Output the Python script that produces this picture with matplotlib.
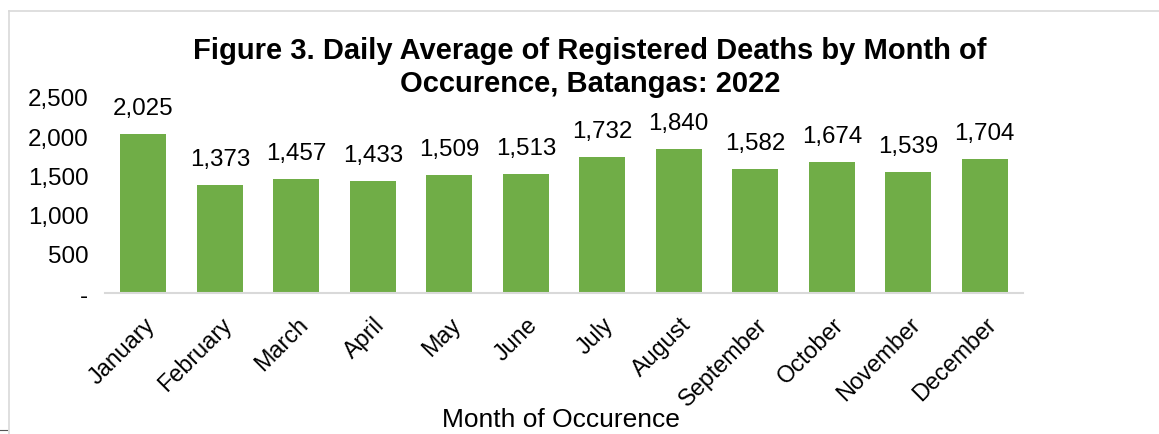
import matplotlib
matplotlib.use("Agg")
import matplotlib.pyplot as plt
from matplotlib.lines import Line2D

months = ["January", "February", "March", "April", "May", "June", "July",
          "August", "September", "October", "November", "December"]
values = [2025, 1373, 1457, 1433, 1509, 1513, 1732, 1840, 1582, 1674, 1539, 1704]
yticks = [0, 500, 1000, 1500, 2000, 2500]
ytick_labels = ["-", "500", "1,000", "1,500", "2,000", "2,500"]
title_lines = ["Figure 3. Daily Average of Registered Deaths by Month of",
               "Occurence, Batangas: 2022"]
xlabel = "Month of Occurence"

plt.rcParams['font.family'] = ['Liberation Sans', 'DejaVu Sans']
FS = 17.4
W, H = 1159, 435
fig = plt.figure(figsize=(W / 100, H / 100), dpi=100)
ax = fig.add_axes([105 / W, (H - 294) / H, (1023 - 105) / W, (294 - 98) / H])

x = list(range(len(months)))
ax.bar(x, values, width=0.6, color="#70AD47", zorder=2)
ax.set_xlim(-0.5, len(months) - 0.5)
ax.set_ylim(0, 2500)
ax.set_yticks(yticks)
ax.set_yticklabels(ytick_labels, fontsize=FS)
ax.set_xticks(x)
ax.set_xticklabels(months, fontsize=16.8, rotation=45, ha="right", va="top",
                   rotation_mode="anchor")
ax.tick_params(axis="both", length=0)
ax.tick_params(axis="y", pad=12)
ax.tick_params(axis="x", pad=14)
for s in ["left", "right", "top"]:
    ax.spines[s].set_visible(False)
ax.spines["bottom"].set_color("#D9D9D9")
ax.spines["bottom"].set_linewidth(1.5)

for xi, v in zip(x, values):
    ax.annotate(f"{v:,}", (xi, v), xytext=(0, 14.4), textcoords="offset points",
                ha="center", va="baseline", fontsize=FS)

fig.text(590 / W, 1 - 59 / H, title_lines[0], ha="center", va="baseline",
         fontsize=21, fontweight="bold")
fig.text(590 / W, 1 - 92 / H, title_lines[1], ha="center", va="baseline",
         fontsize=21, fontweight="bold")
fig.text(561 / W, 1 - 427 / H, xlabel, ha="center", va="baseline", fontsize=19)

# border lines
fig.add_artist(Line2D([9 / W, 9 / W], [0, 1 - 12 / H], transform=fig.transFigure,
                      color="#D9D9D9", lw=1.2))
fig.add_artist(Line2D([9 / W, 1], [1 - 12 / H, 1 - 12 / H], transform=fig.transFigure,
                      color="#D9D9D9", lw=1.2))
fig.add_artist(Line2D([0, 7 / W], [1 - 431 / H, 1 - 431 / H], transform=fig.transFigure,
                      color="#555555", lw=0.8))

fig.savefig("out.png", dpi=100)
